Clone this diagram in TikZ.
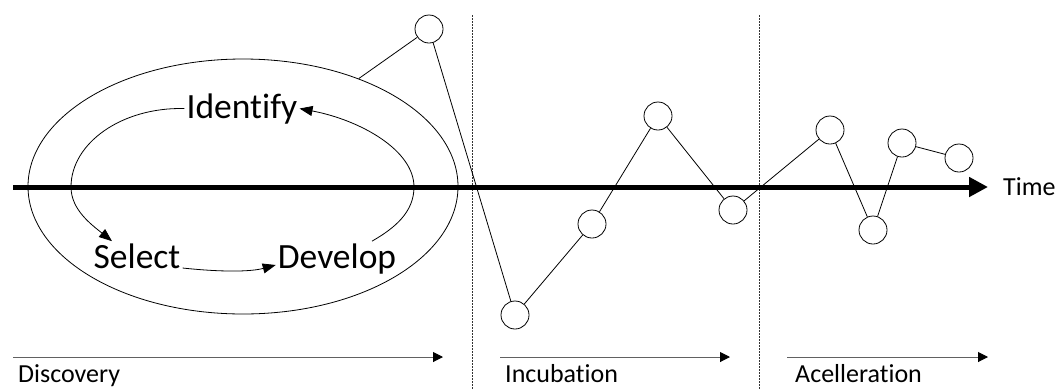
\documentclass[tikz,border=0pt]{standalone}
\usepackage{fontspec}
\setmainfont{Carlito}[Ligatures={NoCommon,NoRequired,NoContextual}]
\usetikzlibrary{arrows.meta,shapes.geometric}
\begin{document}
\begin{tikzpicture}[x=1pt,y=-1pt,
  thinline/.style={line width=0.8pt},
  dot/.style={circle,draw,fill=white,minimum size=28pt,inner sep=0pt,line width=0.8pt},
  biglabel/.style={font=\fontsize{35.5}{40}\selectfont,inner sep=2pt,anchor=base},
  smalllabel/.style={font=\fontsize{26}{30}\selectfont,inner sep=0pt,anchor=base west},
  looparrow/.style={line width=0.8pt,-{Triangle[length=13pt,width=10pt]}},
  phase/.style={line width=1pt,draw=black!62,-{Triangle[length=10pt,width=10pt,color=black]}},
  divider/.style={line width=0.9pt,draw=black!80,dash pattern=on 2pt off 1pt},
]
\useasboundingbox (0,0) rectangle (1062,389);

% dividers
\coordinate (d1t) at (472,15);
\coordinate (d1b) at (472,389);
\coordinate (d2t) at (759,15);
\coordinate (d2b) at (759,389);
\draw[divider] (d1t) -- (d1b);
\draw[divider] (d2t) -- (d2b);

% time axis
\coordinate (ax0) at (13,187);
\coordinate (ax1) at (988,187);
\draw[line width=5pt,-{Triangle[length=19pt,width=19pt]}] (ax0) -- (ax1);
\node[smalllabel] (time) at (1003,195) {Time};

% big ellipse
\node[ellipse,draw,thinline,minimum width=430pt,minimum height=255pt,inner sep=0pt] (E) at (243,186.5) {};

% inner loop
\node[biglabel] (identify) at (242,118) {Identify};
\node[biglabel] (select) at (137,268) {Select};
\node[biglabel] (develop) at (337,268) {Develop};

\draw[looparrow] ([xshift=35pt]develop.north) .. controls (395,228) and (414,212) .. (414,187)
   .. controls (414,150) and (360,120) .. (identify.east);
\draw[looparrow] (identify.west) .. controls (122,107) and (71,143) .. (71,187)
   .. controls (71,210) and (92,225) .. ([xshift=-25pt]select.north);
\draw[looparrow] (select.base east) .. controls (220,272) and (250,272) .. ([yshift=3pt]develop.base west);

% circles
\node[dot] (c1) at (429,29) {};
\node[dot] (c2) at (515,315) {};
\node[dot] (c3) at (592,224) {};
\node[dot] (c4) at (658,116) {};
\node[dot] (c5) at (733,210) {};
\node[dot] (c6) at (830,130) {};
\node[dot] (c7) at (873,230) {};
\node[dot] (c8) at (902,143) {};
\node[dot] (c9) at (959,158) {};

\draw[thinline] (E.43) -- (c1) -- (c2) -- (c3) -- (c4) -- (c5) -- (c6) -- (c7) -- (c8) -- (c9);

% phases
\coordinate (p1s) at (13,357);
\coordinate (p1e) at (443,357);
\coordinate (p2s) at (500,357);
\coordinate (p2e) at (730,357);
\coordinate (p3s) at (787,357);
\coordinate (p3e) at (988,357);
\draw[phase] (p1s) -- (p1e);
\draw[phase] (p2s) -- (p2e);
\draw[phase] (p3s) -- (p3e);
\node[smalllabel] (disc) at (18,382.5) {Discovery};
\node[smalllabel] (incu) at (505,382.5) {Incubation};
\node[smalllabel] (accel) at (795,382.5) {Acelleration};
\end{tikzpicture}
\end{document}
